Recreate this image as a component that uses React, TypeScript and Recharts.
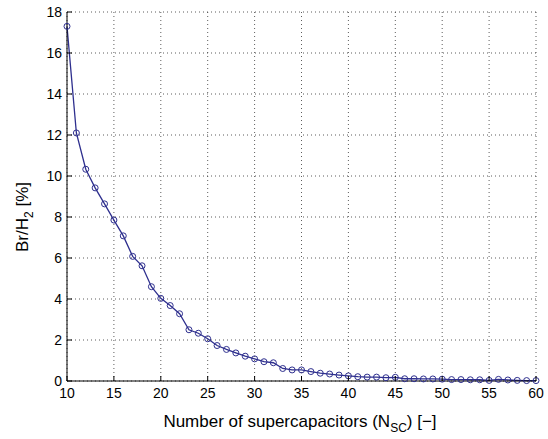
import { LineChart, Line, XAxis, YAxis, CartesianGrid } from 'recharts';

// number of supercapacitors (x) and Br/H2 ratio in % (y)
const nSc = [
  10, 11, 12, 13, 14, 15, 16, 17, 18, 19, 20, 21, 22, 23, 24, 25, 26, 27, 28, 29, 30,
  31, 32, 33, 34, 35, 36, 37, 38, 39, 40, 41, 42, 43, 44, 45, 46, 47, 48, 49, 50,
  51, 52, 53, 54, 55, 56, 57, 58, 59, 60,
];
const brH2 = [
  17.3, 12.1, 10.33, 9.42, 8.64, 7.85, 7.08, 6.08, 5.62, 4.6, 4.03, 3.68, 3.28, 2.5, 2.33,
  2.06, 1.73, 1.54, 1.37, 1.21, 1.08, 0.94, 0.89, 0.61, 0.54, 0.54, 0.46, 0.38, 0.34, 0.29,
  0.25, 0.21, 0.19, 0.19, 0.16, 0.18, 0.11, 0.11, 0.1, 0.1, 0.09, 0.07, 0.07, 0.06, 0.06,
  0.03, 0.08, 0.05, 0.03, 0.02, 0.02,
];
const xTicks = [10, 15, 20, 25, 30, 35, 40, 45, 50, 55, 60];
const yTicks = [0, 2, 4, 6, 8, 10, 12, 14, 16, 18];

const data = nSc.map((n, i) => ({ n, v: brH2[i] }));

const FONT = '"Liberation Sans", Arial, Helvetica, sans-serif';
const LINE = '#2e2f8e';
const TICK = 5;

// MATLAB style ticks: marks point into the plot box
const BottomTick = (p: any) => (
  <g>
    <line x1={p.x} x2={p.x} y1={p.y} y2={p.y - TICK} stroke="#000" />
    <text x={p.x} y={p.y + 17} textAnchor="middle" fontSize={14} fontFamily={FONT} fill="#000">
      {p.payload.value}
    </text>
  </g>
);
const TopTick = (p: any) => (
  <line x1={p.x} x2={p.x} y1={p.y} y2={p.y + TICK} stroke="#000" />
);
const LeftTick = (p: any) => (
  <g>
    <line x1={p.x} x2={p.x + TICK} y1={p.y} y2={p.y} stroke="#000" />
    <text x={p.x - 5} y={p.y + 5} textAnchor="end" fontSize={14} fontFamily={FONT} fill="#000">
      {p.payload.value}
    </text>
  </g>
);
const RightTick = (p: any) => (
  <line x1={p.x} x2={p.x - TICK} y1={p.y} y2={p.y} stroke="#000" />
);

const Marker = (p: any) => (
  <circle cx={p.cx} cy={p.cy} r={3} fill="none" stroke={LINE} strokeWidth={1} />
);

export default function App() {
  return (
    <div style={{ position: 'absolute', left: 0, top: 0, background: '#fff' }}>
      <LineChart
        width={548}
        height={439}
        data={data}
        margin={{ top: 12, right: 12, left: 0, bottom: 0 }}
      >
        <CartesianGrid stroke="#333" strokeDasharray="1 3" strokeWidth={0.8} />
        <XAxis
          dataKey="n"
          type="number"
          domain={[10, 60]}
          ticks={xTicks}
          interval={0}
          height={58}
          tickSize={0}
          tickMargin={0}
          tickLine={false}
          axisLine={{ stroke: '#000' }}
          tick={BottomTick}
          label={{
            content: () => (
              <text x={300} y={427} textAnchor="middle" fontSize={17} fontFamily={FONT} fill="#000">
                Number of supercapacitors (N
                <tspan dy={5} fontSize={12}>SC</tspan>
                <tspan dy={-5}>) [−]</tspan>
              </text>
            ),
          }}
        />
        <XAxis
          xAxisId="top"
          orientation="top"
          dataKey="n"
          type="number"
          domain={[10, 60]}
          ticks={xTicks}
          interval={0}
          height={0}
          tickSize={0}
          tickMargin={0}
          tickLine={false}
          axisLine={{ stroke: '#000' }}
          tick={TopTick}
        />
        <YAxis
          type="number"
          domain={[0, 18]}
          ticks={yTicks}
          interval={0}
          width={67}
          tickSize={0}
          tickMargin={0}
          tickLine={false}
          axisLine={{ stroke: '#000' }}
          tick={LeftTick}
          label={{
            content: () => (
              <text
                transform="translate(28,217) rotate(-90)"
                textAnchor="middle"
                fontSize={17}
                fontFamily={FONT}
                fill="#000"
              >
                Br/H
                <tspan dy={5} fontSize={12}>2</tspan>
                <tspan dy={-5}> [%]</tspan>
              </text>
            ),
          }}
        />
        <YAxis
          yAxisId="right"
          orientation="right"
          type="number"
          domain={[0, 18]}
          ticks={yTicks}
          interval={0}
          width={0}
          tickSize={0}
          tickMargin={0}
          tickLine={false}
          axisLine={{ stroke: '#000' }}
          tick={RightTick}
        />
        <Line
          dataKey="v"
          type="linear"
          stroke={LINE}
          strokeWidth={1.3}
          dot={Marker}
          activeDot={false}
          isAnimationActive={false}
        />
      </LineChart>
    </div>
  );
}
